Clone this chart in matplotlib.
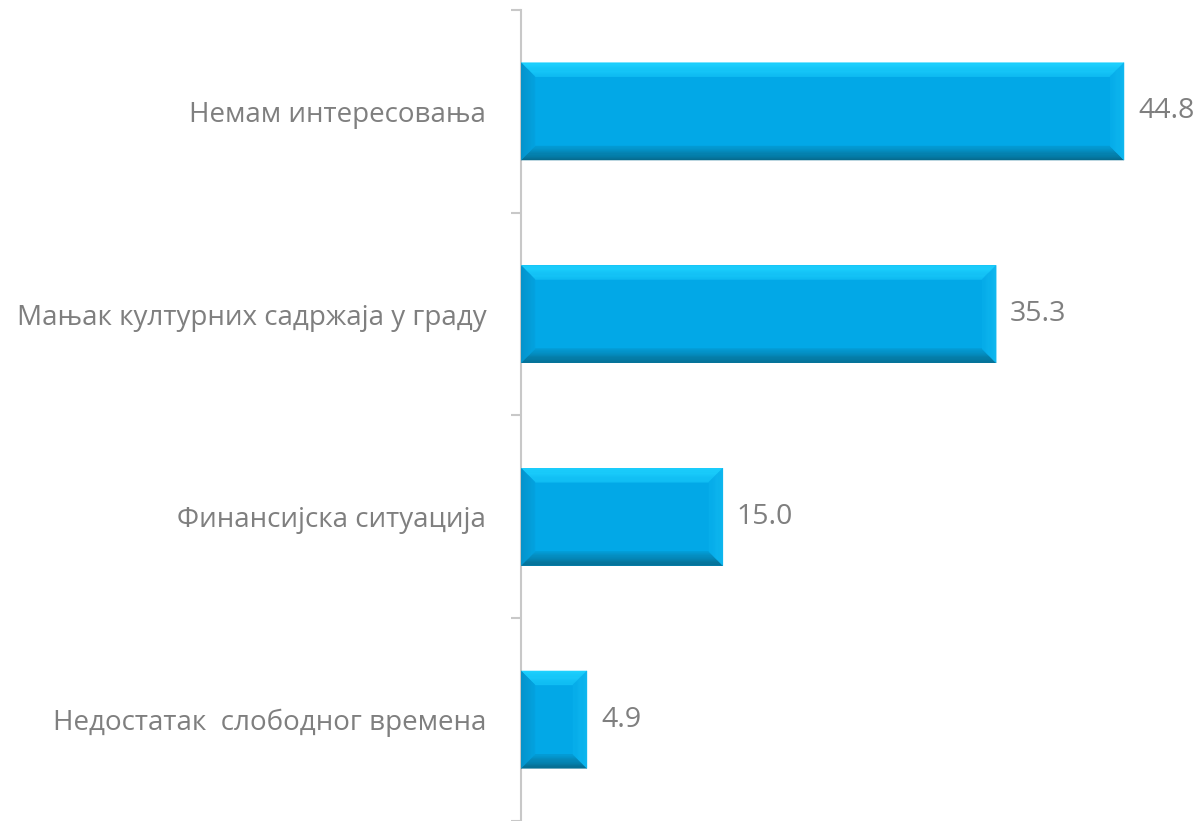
import matplotlib
matplotlib.use("Agg")
import matplotlib.pyplot as plt
import numpy as np
from matplotlib.colors import to_rgb
from matplotlib.patches import Polygon

categories = ["Немам интересовања", "Мањак културних садржаја у граду",
              "Финансијска ситуација", "Недостатак  слободног времена"]
values = [44.8, 35.3, 15.0, 4.9]
value_labels = ["44.8", "35.3", "15.0", "4.9"]

plt.rcParams['font.family'] = ['Open Sans', 'DejaVu Sans']

W, H = 1202, 821
fig = plt.figure(figsize=(W / 100, H / 100), dpi=100)
ax_left, ax_right, ax_top = 521, 1194, 10
ax = fig.add_axes([ax_left / W, 0, (ax_right - ax_left) / W, (H - ax_top) / H])
xmax = 50.0
ax.set_xlim(0, xmax)
ax.set_ylim(len(categories) - 0.5, -0.5)

pxx = (ax_right - ax_left) / xmax
pxy = (H - ax_top) / len(categories)
bev = 14.0
bx, by = bev / pxx, bev / pxy
bh = 0.48

main = "#02A8E7"


def mix(c1, c2, t):
    a, b = np.array(to_rgb(c1)), np.array(to_rgb(c2))
    return tuple(a + (b - a) * t)


def band(outer, inner, c_out, c_in, n=12):
    (o0, o1), (i0, i1) = outer, inner
    o0, o1, i0, i1 = map(np.array, (o0, o1, i0, i1))
    for k in range(n):
        t0, t1 = k / n, (k + 1) / n
        a0 = o0 + (i0 - o0) * t0
        a1 = o1 + (i1 - o1) * t0
        b0 = o0 + (i0 - o0) * t1
        b1 = o1 + (i1 - o1) * t1
        col = mix(c_out, c_in, (t0 + t1) / 2)
        ax.add_patch(Polygon([a0, a1, b1, b0], closed=True, facecolor=col,
                             edgecolor=col, linewidth=0.3, zorder=3))


for i, v in enumerate(values):
    y0, y1 = i - bh / 2, i + bh / 2  # y0 top (inverted axis)
    x0, x1 = 0, v
    b_x = min(bx, v / 2)
    ax.add_patch(Polygon([(x0, y0), (x1, y0), (x1, y1), (x0, y1)], closed=True,
                         facecolor=main, edgecolor="none", zorder=2))
    band(((x0, y0), (x1, y0)), ((x0 + b_x, y0 + by), (x1 - b_x, y0 + by)),
         "#1FD3FF", "#10BDF4")
    band(((x0, y1), (x1, y1)), ((x0 + b_x, y1 - by), (x1 - b_x, y1 - by)),
         "#066A8C", "#049CD6")
    band(((x0, y0), (x0, y1)), ((x0 + b_x, y0 + by), (x0 + b_x, y1 - by)),
         "#0592C9", "#03A2E0")
    band(((x1, y0), (x1, y1)), ((x1 - b_x, y0 + by), (x1 - b_x, y1 - by)),
         "#10B8F0", "#06ACEA")
    ax.text(v + 14 / pxx, i, value_labels[i], ha="left", va="center",
            fontsize=20.5, color="#7F7F7F")

for s in ["top", "right", "bottom"]:
    ax.spines[s].set_visible(False)
ax.spines["left"].set_color("#C8C8C8")
ax.spines["left"].set_linewidth(1.5)
ax.set_xticks([])
ax.set_yticks(np.arange(len(categories) + 1) - 0.5)
ax.set_yticklabels([])
ax.tick_params(axis="y", which="major", length=7.5, width=1.5, color="#C8C8C8",
               direction="out")
ax.set_yticks(np.arange(len(categories)), minor=True)
ax.set_yticklabels(categories, minor=True)
ax.tick_params(axis="y", which="minor", length=0, pad=25, labelsize=20,
               labelcolor="#7F7F7F")

fig.savefig("out.png", dpi=100)
